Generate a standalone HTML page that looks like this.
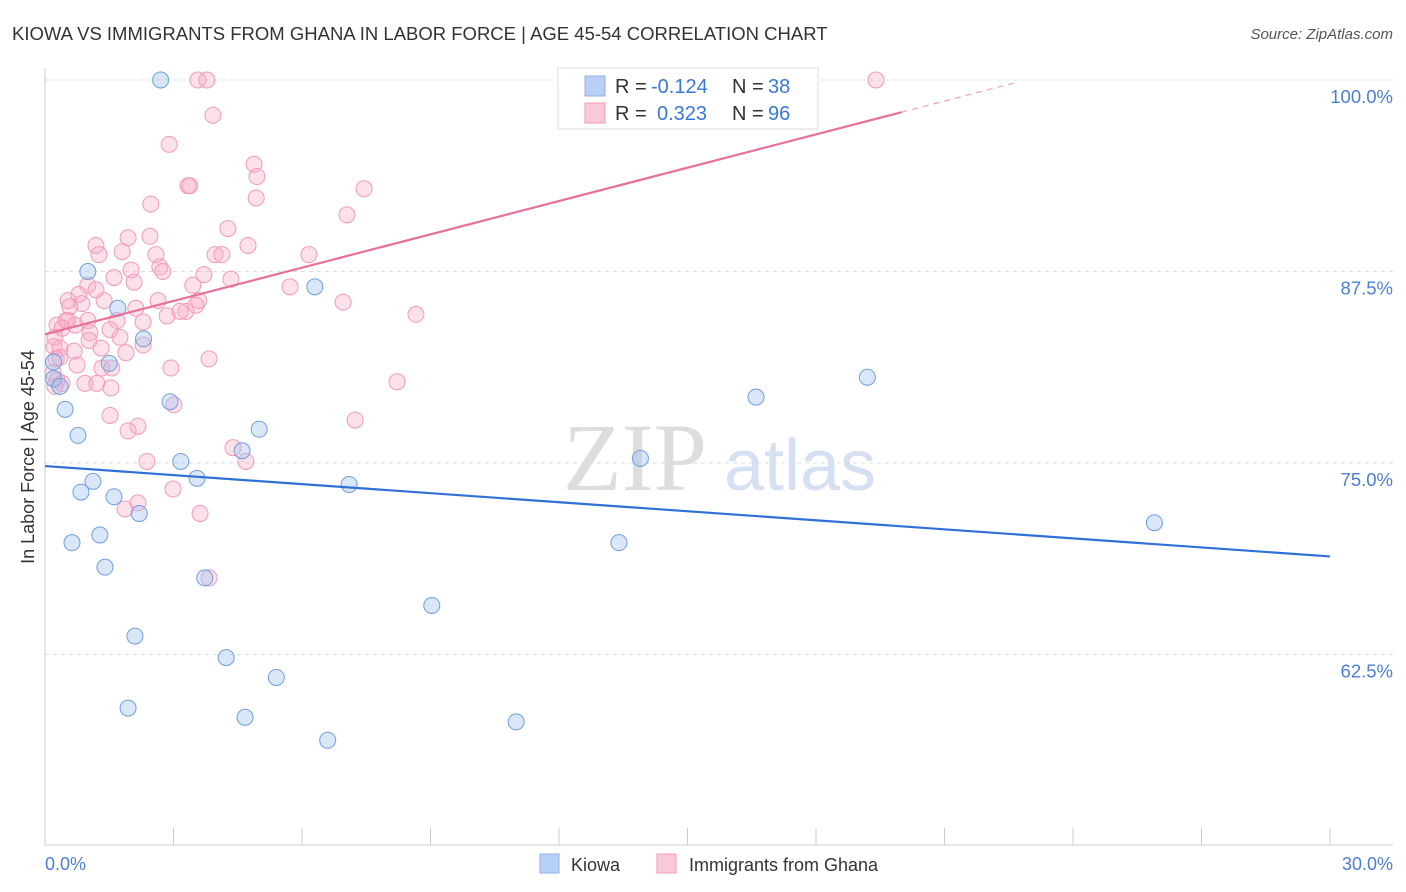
<!DOCTYPE html>
<html><head><meta charset="utf-8"><style>
body{margin:0;background:#fff;font-family:"Liberation Sans",sans-serif;}
#wrap{position:relative;width:1406px;height:892px;overflow:hidden}
</style></head><body><div id="wrap">
<svg id="svg" width="1406" height="892" xmlns="http://www.w3.org/2000/svg">
<text x="12" y="40" font-size="18.5" fill="#333">KIOWA VS IMMIGRANTS FROM GHANA IN LABOR FORCE | AGE 45-54 CORRELATION CHART</text>
<text x="1393" y="39" font-size="15" fill="#555" text-anchor="end" font-style="italic">Source: ZipAtlas.com</text>
<text x="635" y="490" font-size="96" fill="#ddd" text-anchor="middle" font-family="Liberation Serif,serif">ZIP</text>
<text x="800" y="490" font-size="72" fill="#d5e0f2" text-anchor="middle">atlas</text>
<g id="grid"></g><g id="axes"></g><g id="pts"></g><g id="trend"></g>
<text transform="translate(34,457) rotate(-90)" font-size="18" fill="#333" text-anchor="middle">In Labor Force | Age 45-54</text>
<text x="45" y="870" font-size="18" fill="#4a7fd4">0.0%</text>
<text x="1393" y="870" font-size="18" fill="#4a7fd4" text-anchor="end">30.0%</text>
<g>
<rect x="558" y="68" width="260" height="61" fill="#fff" stroke="#ddd"/>
<rect x="585" y="76" width="20" height="20" fill="#b8d0f5" stroke="#8fb0e6"/>
<rect x="585" y="103" width="20" height="20" fill="#fbc8d8" stroke="#f09ab6"/>
<text x="615" y="93" font-size="20" fill="#333">R =</text>
<text x="651" y="93" font-size="20" fill="#3a78d8">-0.124</text>
<text x="732" y="93" font-size="20" fill="#333">N =</text>
<text x="768" y="93" font-size="20" fill="#3a78d8">38</text>
<text x="615" y="120" font-size="20" fill="#333">R =</text>
<text x="657" y="120" font-size="20" fill="#3a78d8">0.323</text>
<text x="732" y="120" font-size="20" fill="#333">N =</text>
<text x="768" y="120" font-size="20" fill="#3a78d8">96</text>
</g>
<g>
<rect x="540" y="854" width="19" height="19" fill="#b8d0f5" stroke="#8fb0e6"/>
<text x="571" y="871" font-size="18" fill="#333">Kiowa</text>
<rect x="657" y="854" width="19" height="19" fill="#fbc8d8" stroke="#f09ab6"/>
<text x="689" y="871" font-size="18" fill="#333">Immigrants from Ghana</text>
</g>
</svg></div>
<script>
const yTicks=[100,87.5,75,62.5];
const yTickLabels=["100.0%","87.5%","75.0%","62.5%"];
const kiowaX=[2.7,1.0,6.3,1.7,2.3,0.2,1.5,0.2,0.35,0.47,2.92,0.77,5.0,4.6,3.17,3.55,1.12,7.1,0.84,1.61,2.2,0.63,1.28,1.4,3.73,13.4,16.6,19.2,13.9,25.9,9.03,2.1,4.23,5.4,1.94,4.67,6.6,11.0];
const kiowaY=[100,87.5,86.5,85.1,83.1,81.6,81.5,80.5,80.0,78.5,79.0,76.8,77.2,75.8,75.1,74.0,73.8,73.6,73.1,72.8,71.7,69.8,70.3,68.2,67.5,69.8,79.3,80.6,75.3,71.1,65.7,63.7,62.3,61.0,59.0,58.4,56.9,58.1];
const ghanaX=[3.57,3.78,19.4,3.92,2.9,4.88,4.95,3.34,3.38,7.45,4.93,2.47,7.05,4.27,2.45,1.94,1.19,4.74,1.8,3.97,4.13,6.16,2.59,2.68,2.01,2.75,3.71,4.34,1.61,2.08,1.0,1.19,5.72,3.45,0.79,0.54,1.38,2.64,3.59,0.86,6.96,2.12,3.29,0.58,3.52,3.15,8.66,2.85,1.0,0.54,0.7,1.68,0.28,0.4,1.52,1.05,1.75,0.23,1.03,1.89,1.31,2.29,0.21,0.35,0.68,0.26,3.83,0.75,2.94,1.33,1.56,0.19,0.28,0.93,1.21,1.54,8.22,0.4,3.01,1.52,7.24,2.17,1.94,4.39,4.69,2.38,2.99,2.17,1.87,3.62,3.83,0.23,0.35,0.49,1.26,2.29];
const ghanaY=[100,100,100,97.7,95.8,94.5,93.7,93.1,93.1,92.9,92.3,91.9,91.2,90.3,89.8,89.7,89.2,89.2,88.8,88.6,88.6,88.6,88.6,87.8,87.6,87.5,87.3,87.0,87.1,86.8,86.6,86.3,86.5,86.6,86.0,85.6,85.6,85.6,85.6,85.4,85.5,85.1,84.9,85.2,85.3,84.9,84.7,84.6,84.3,84.3,84.0,84.3,84.0,83.8,83.7,83.5,83.2,83.2,83.0,82.2,82.5,82.7,82.6,82.5,82.3,81.8,81.8,81.4,81.2,81.2,81.2,80.9,80.4,80.2,80.2,79.9,80.3,80.2,78.8,78.1,77.8,77.4,77.1,76.0,75.1,75.1,73.3,72.4,72.0,71.7,67.5,80.0,81.9,84.3,88.6,84.2];
const kiowaTrend=[74.8,68.9];
const ghanaTrend=[83.4,97.9];
const NS='http://www.w3.org/2000/svg';
const X0=45,X1=1330,Y100=80,PX=191.5/12.5;
function sx(v){return X0+(v/30)*(X1-X0);}
function sy(v){return Y100+(100-v)*PX;}
function mk(t,a,p){const e=document.createElementNS(NS,t);for(const k in a)e.setAttribute(k,a[k]);p.appendChild(e);return e;}
const grid=document.getElementById('grid'),axes=document.getElementById('axes'),pts=document.getElementById('pts'),tr=document.getElementById('trend');
yTicks.forEach((t,i)=>{
 const l=mk('line',{x1:45,x2:1393,y1:sy(t),y2:sy(t),stroke:'#ddd','stroke-dasharray':'4,4'},grid);
 
 
 const tx=mk('text',{x:1393,y:sy(t)+23,'font-size':18.5,fill:'#4a7fd4','text-anchor':'end'},grid);
 tx.textContent=yTickLabels[i];
 
 
});
const la=mk('line',{x1:45,x2:45,y1:68,y2:845,stroke:'#ccc'},axes);


const lb=mk('line',{x1:45,x2:1393,y1:845,y2:845,stroke:'#ccc'},axes);


for(let i=0;i<=10;i++){const t=mk('line',{x1:sx(i*3),x2:sx(i*3),y1:828,y2:845,stroke:'#ccc'},axes);
 
 }
ghanaX.forEach((x,i)=>{const c=mk('circle',{cx:sx(x),cy:sy(ghanaY[i]),r:8,fill:'rgba(248,170,196,0.35)',stroke:'#f29ab7','stroke-width':1},pts);
 
 });
kiowaX.forEach((x,i)=>{const c=mk('circle',{cx:sx(x),cy:sy(kiowaY[i]),r:8,fill:'rgba(160,195,240,0.4)',stroke:'#6f9ee0','stroke-width':1},pts);
 
 });
const k=mk('line',{x1:sx(0),y1:sy(kiowaTrend[0]),x2:sx(30),y2:sy(kiowaTrend[1]),stroke:'#2f6fd6','stroke-width':2.2},tr);


const gs=(ghanaTrend[1]-ghanaTrend[0])/20;
const g=mk('line',{x1:sx(0),y1:sy(ghanaTrend[0]),x2:sx(20),y2:sy(ghanaTrend[1]),stroke:'#e8709a','stroke-width':2.2},tr);


const gd=mk('line',{x1:sx(20),y1:sy(ghanaTrend[1]),x2:sx(22.7),y2:sy(ghanaTrend[1]+gs*2.7),stroke:'#f0a0bc','stroke-width':1.2,'stroke-dasharray':'6,5'},tr);


</script></body></html>
